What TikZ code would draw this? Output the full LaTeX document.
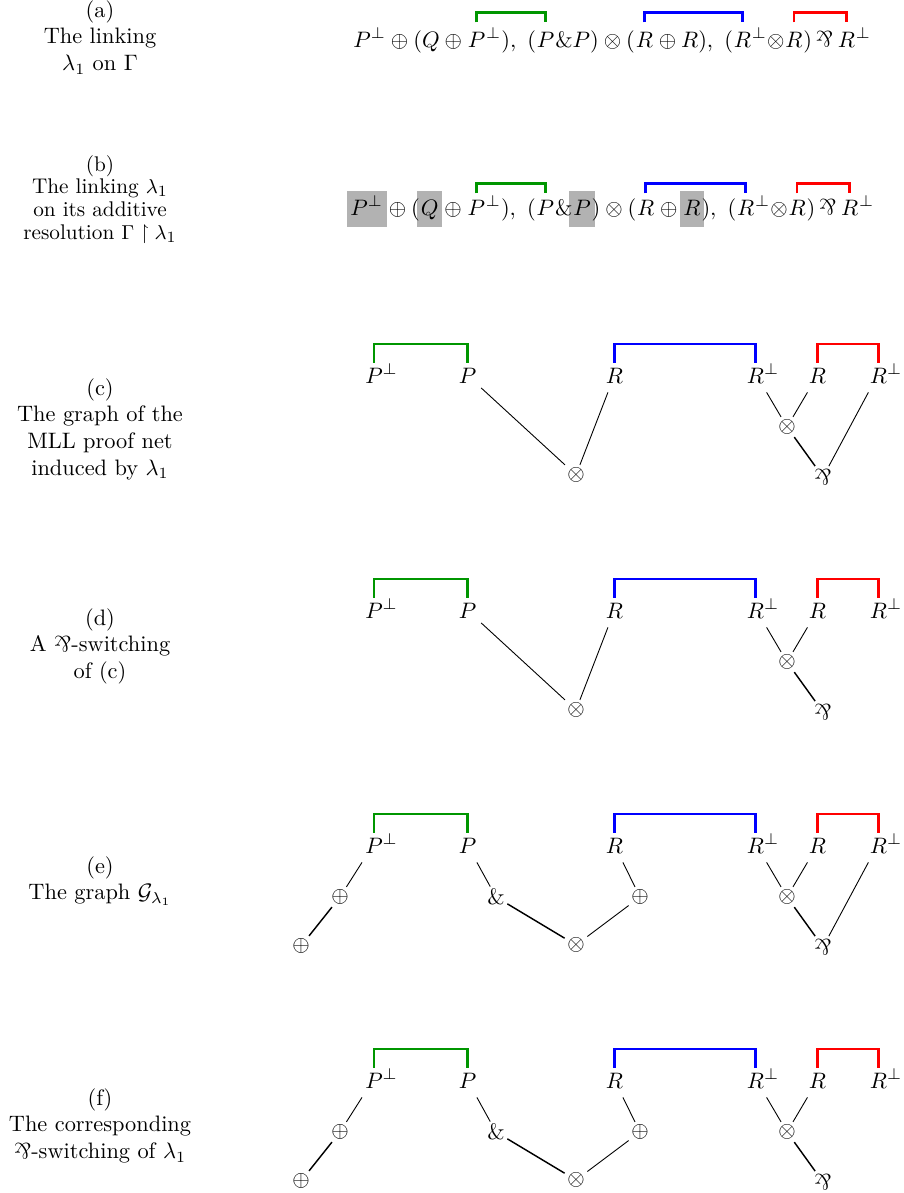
\documentclass[tikz,border=0pt]{standalone}
\usepackage{amsmath,amssymb}
\usepackage{graphicx}
\usetikzlibrary{calc,backgrounds}
\newcommand{\mypar}{\mathord{\rotatebox[origin=c]{180}{\&}}}
\newcommand{\tpar}{\rotatebox[origin=c]{180}{\&}}
\definecolor{lkgreen}{RGB}{0,150,0}
\begin{document}
\begin{tikzpicture}[x=0.4474pt,y=-0.4474pt,
  fp/.style={inner sep=0pt, anchor=base west},
  lbl/.style={anchor=base, inner sep=0pt},
  atom/.style={inner xsep=2pt, inner ysep=4pt, anchor=base},
  op/.style={inner sep=1pt},
  ln/.style={line width=0.4pt},
  lnb/.style={line width=0.65pt},
  lk/.style={line width=1.2pt},
  gbox/.style={fill=black!30}
]
\useasboundingbox (0,0) rectangle (904,1193);

% ---------- labels ----------
\node[lbl] (la) at (100,17) {\begin{tabular}[t]{@{}c@{}}(a)\\The linking\\$\lambda_1$ on $\Gamma$\end{tabular}};
\node[lbl,font=\fontsize{9.5pt}{10.2pt}\selectfont] (lb) at (100,171) {\begin{tabular}[t]{@{}c@{}}(b)\\The linking $\lambda_1$\\on its additive\\resolution $\Gamma\restriction\lambda_1$\end{tabular}};
\node[lbl] (lc) at (100,395) {\begin{tabular}[t]{@{}c@{}}(c)\\The graph of the\\MLL proof net\\induced by $\lambda_1$\end{tabular}};
\node[lbl] (ld) at (100,625) {\begin{tabular}[t]{@{}c@{}}(d)\\A \tpar-switching\\of (c)\end{tabular}};
\node[lbl] (le) at (100,873) {\begin{tabular}[t]{@{}c@{}}(e)\\The graph $\mathcal{G}_{\lambda_1}$\end{tabular}};
\node[lbl] (lf) at (100,1105) {\begin{tabular}[t]{@{}c@{}}(f)\\The corresponding\\\tpar-switching of $\lambda_1$\end{tabular}};

% ---------- row (a) ----------
\node[fp] (a1) at (353,47) {$P^\perp\oplus(Q\oplus{}$};
\node[fp] (aP1) at (a1.base east) {$P$};
\node[fp] (a2) at (aP1.base east) {$^\perp),\ ($};
\node[fp] (aP2) at (a2.base east) {$P$};
\node[fp] (a3) at (aP2.base east) {$\&P)\otimes($};
\node[fp] (aR1) at (a3.base east) {$R$};
\node[fp] (a4) at (aR1.base east) {${}\oplus R),\ ($};
\node[fp] (aR2) at (a4.base east) {$R$};
\node[fp] (a5) at (aR2.base east) {$^\perp\mathord{\otimes}$};
\node[fp] (aR3) at (a5.base east) {$R$};
\node[fp] (a6) at (aR3.base east) {$)\,\mypar\,$};
\node[fp] (aR4) at (a6.base east) {$R$};
\node[fp] (a7) at (aR4.base east) {$^\perp$};
\draw[lk,lkgreen] ($(aP1.base)+(0,11pt)$) -- ++(0,4.5pt) -| ($(aP2.base)+(0,11pt)$);
\draw[lk,blue] ($(aR1.base)+(0,11pt)$) -- ++(0,4.5pt) -| ($(aR2.base)+(0,11pt)$);
\draw[lk,red] ($(aR3.base)+(0,11pt)$) -- ++(0,4.5pt) -| ($(aR4.base)+(0,11pt)$);

% ---------- row (b) ----------
\node[fp] (b1) at (350,215) {$P^\perp$};
\node[fp] (b2) at (b1.base east) {${}\oplus($};
\node[fp] (b3) at (b2.base east) {$Q$};
\node[fp] (b4) at (b3.base east) {${}\oplus{}$};
\node[fp] (bP1) at (b4.base east) {$P$};
\node[fp] (b5) at (bP1.base east) {$^\perp),\ ($};
\node[fp] (bP2) at (b5.base east) {$P$};
\node[fp] (b6) at (bP2.base east) {$\&$};
\node[fp] (b7) at (b6.base east) {$P$};
\node[fp] (b8) at (b7.base east) {$)\otimes($};
\node[fp] (bR1) at (b8.base east) {$R$};
\node[fp] (b9) at (bR1.base east) {${}\oplus{}$};
\node[fp] (b10) at (b9.base east) {$R$};
\node[fp] (b11) at (b10.base east) {$),\ ($};
\node[fp] (bR2) at (b11.base east) {$R$};
\node[fp] (b12) at (bR2.base east) {$^\perp\mathord{\otimes}$};
\node[fp] (bR3) at (b12.base east) {$R$};
\node[fp] (b13) at (bR3.base east) {$)\,\mypar\,$};
\node[fp] (bR4) at (b13.base east) {$R$};
\node[fp] (b14) at (bR4.base east) {$^\perp$};
\begin{scope}[on background layer]
\foreach \n in {b1,b3,b7,b10}
  \fill[gbox] ($(\n.base west)+(-1.5pt,-5.5pt)$) rectangle ($(\n.base east)+(1.5pt,10.9pt)$);
\end{scope}
\draw[lk,lkgreen] ($(bP1.base)+(0,9.7pt)$) -- ++(0,4.5pt) -| ($(bP2.base)+(0,9.7pt)$);
\draw[lk,blue] ($(bR1.base)+(0,9.7pt)$) -- ++(0,4.5pt) -| ($(bR2.base)+(0,9.7pt)$);
\draw[lk,red] ($(bR3.base)+(0,9.7pt)$) -- ++(0,4.5pt) -| ($(bR4.base)+(0,9.7pt)$);

% ---------- rows (c)-(f): common part ----------
\foreach \r/\b in {c/383,d/618,e/853,f/1088} {
  \node[atom] (\r1) at (374,\b) {$P\rlap{$^{\perp}$}$};
  \node[atom] (\r2) at (467.5,\b) {$P$};
  \node[atom] (\r3) at (614.5,\b) {$R$};
  \node[atom] (\r4) at (755.5,\b) {$R\rlap{$^{\perp}$}$};
  \node[atom] (\r5) at (817.5,\b) {$R$};
  \node[atom] (\r6) at (878.5,\b) {$R\rlap{$^{\perp}$}$};
  \draw[lk,lkgreen] ($(\r1.base)+(0,9pt)$) -- ++(0,8.4pt) -| ($(\r2.base)+(0,9pt)$);
  \draw[lk,blue] ($(\r3.base)+(0,9pt)$) -- ++(0,8.4pt) -| ($(\r4.base)+(0,9pt)$);
  \draw[lk,red] ($(\r5.base)+(0,9pt)$) -- ++(0,8.4pt) -| ($(\r6.base)+(0,9pt)$);
  \node[op] (\r-tb) at (576,{\b+92}) {$\otimes$};
  \node[op] (\r-tr) at (787,{\b+44}) {$\otimes$};
  \node[op] (\r-pr) at (823,{\b+94}) {$\mypar$};
  \draw[ln] (\r4) -- (\r-tr);
  \draw[ln] (\r5) -- (\r-tr);
  \draw[lnb] (\r-tr) -- (\r-pr);
}

% rows (c),(d): direct edges to the tensor
\foreach \r in {c,d} {
  \draw[ln] (\r2) -- (\r-tb);
  \draw[ln] (\r3) -- (\r-tb);
}
% rows (c),(e): par edge from R^perp
\foreach \r in {c,e} {
  \draw[ln] (\r6) -- (\r-pr);
}
% rows (e),(f): additive nodes
\foreach \r/\b in {e/853,f/1088} {
  \node[op] (\r-oa) at (340,{\b+44}) {$\oplus$};
  \node[op] (\r-ol) at (301,{\b+93}) {$\oplus$};
  \node[op] (\r-w) at (496,{\b+44}) {$\&$};
  \node[op] (\r-ob) at (640,{\b+44}) {$\oplus$};
  \draw[ln] (\r1) -- (\r-oa);
  \draw[lnb] (\r-oa) -- (\r-ol);
  \draw[ln] (\r2) -- (\r-w);
  \draw[lnb] (\r-w) -- (\r-tb);
  \draw[ln] (\r3) -- (\r-ob);
  \draw[ln] (\r-ob) -- (\r-tb);
}
\end{tikzpicture}
\end{document}
